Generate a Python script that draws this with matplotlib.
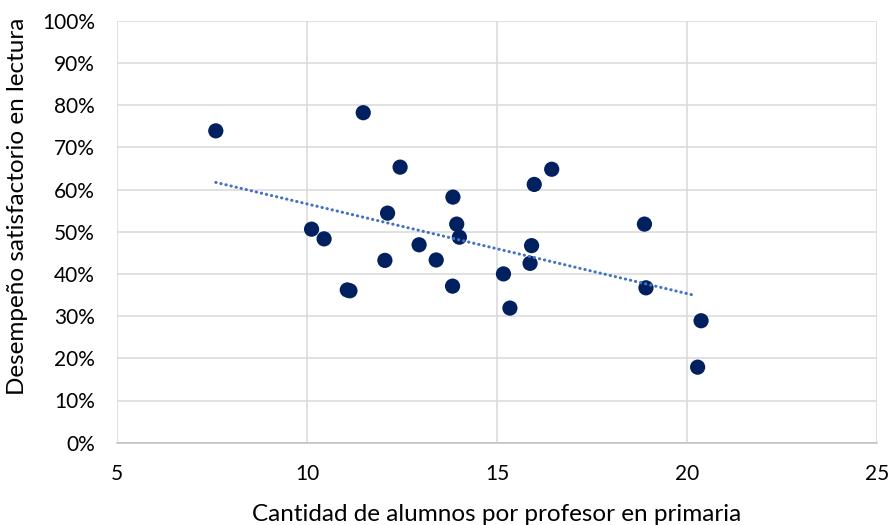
import numpy as np
import matplotlib.pyplot as plt
from matplotlib.ticker import PercentFormatter

# alumnos por profesor (primaria) vs desempeño satisfactorio en lectura (%)
alumnos = [7.60, 11.48, 12.45, 12.12, 10.12, 10.45, 12.05, 11.06, 11.13,
           13.84, 13.94, 14.01, 12.95, 13.40, 13.83, 16.44, 15.98, 15.91,
           15.87, 15.17, 15.34, 18.88, 18.92, 20.37, 20.28]
desempeno = [73.9, 78.2, 65.3, 54.4, 50.6, 48.3, 43.2, 36.2, 36.0,
             58.2, 51.8, 48.7, 46.9, 43.3, 37.1, 64.8, 61.2, 46.7,
             42.5, 40.0, 31.9, 51.8, 36.7, 28.9, 17.9]

x_ticks = [5, 10, 15, 20, 25]
y_ticks = list(range(0, 101, 10))

plt.rcParams['font.family'] = ['Lato', 'DejaVu Sans']

fig = plt.figure(figsize=(8.9, 5.25), dpi=100)
ax = fig.add_axes([117 / 890, 1 - 442.7 / 525, 760 / 890, 422 / 525])

x = np.array(alumnos)
y = np.array(desempeno)

# tendencia lineal
m, b = np.polyfit(x, y, 1)
xt = np.array([x.min(), 20.17])
ax.plot(xt, m * xt + b, color="#4472C4", linewidth=2.2,
        linestyle=(0, (0.1, 1.6)), dash_capstyle="round", zorder=3)

ax.scatter(x, y, s=120, color="#002060", edgecolors="none", zorder=2)

ax.set_xlim(5, 25)
ax.set_ylim(0, 100)
ax.set_xticks(x_ticks)
ax.set_yticks(y_ticks)
ax.yaxis.set_major_formatter(PercentFormatter(decimals=0))
ax.grid(True, color="#D9D9D9", linewidth=1.1, zorder=0)
ax.set_axisbelow(True)
for s in ["top", "right", "left"]:
    ax.spines[s].set_visible(False)
ax.spines["bottom"].set_color("#BFBFBF")
ax.spines["bottom"].set_linewidth(1.1)
ax.tick_params(length=0, labelsize=15, colors="#000000")
ax.tick_params(axis="x", pad=15)
ax.tick_params(axis="y", pad=16)

ax.set_xlabel("Cantidad de alumnos por profesor en primaria", fontsize=17.5, labelpad=15)
ax.set_ylabel("Desempeño satisfactorio en lectura", fontsize=17.5)
ax.yaxis.set_label_coords(-0.117, 0.561)

fig.savefig("out.png", dpi=100)
